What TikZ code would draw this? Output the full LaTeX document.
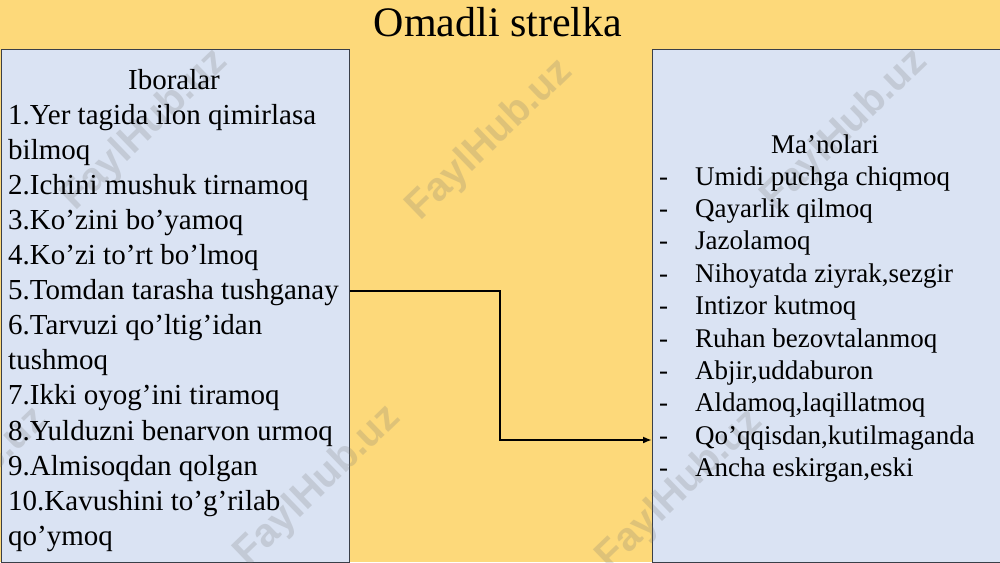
\documentclass[tikz,border=0pt]{standalone}
\usepackage{fontspec}
\setmainfont{Liberation Serif}
\newfontfamily\wmfont{Liberation Sans}
\usetikzlibrary{arrows.meta}
\definecolor{slidebg}{HTML}{FDD97A}
\definecolor{boxfill}{HTML}{DAE3F3}
\definecolor{boxedge}{HTML}{3A3F48}
\tikzset{
  panel/.style={draw=boxedge, line width=1.3pt, fill=boxfill},
  lefttext/.style={anchor=base west, inner sep=0pt, font=\fontsize{29}{35}\selectfont},
  righttext/.style={anchor=base west, inner sep=0pt, font=\fontsize{27}{32}\selectfont},
  headtext/.style={anchor=base, inner sep=0pt},
  watermark/.style={rotate=44, inner sep=0pt, text=black!55, opacity=0.22, font=\wmfont\bfseries\fontsize{40}{40}\selectfont},
  connector/.style={line width=2pt, -{Latex[length=9pt,width=7pt]}}
}
\begin{document}
\begin{tikzpicture}[x=1pt,y=-1pt]
\useasboundingbox (0,0) rectangle (1000,562);
\fill[slidebg] (0,0) rectangle (1000,562);
% title
\node[headtext, font=\fontsize{42}{42}\selectfont] (title) at (498,36) {Omadli strelka};
% panels
\node[panel, minimum width=348pt, minimum height=513pt, anchor=north west, inner sep=0pt] (L) at (0.7,48.5) {};
\node[panel, minimum width=347.5pt, minimum height=513pt, anchor=north west, inner sep=0pt] (R) at (652,48.5) {};
% watermarks
\node[watermark] (w1) at (145,130) {FaylHub.uz};
\node[watermark] (w2) at (490,140) {FaylHub.uz};
\node[watermark] (w3) at (845,130) {FaylHub.uz};
\node[watermark] (w4) at (-35,488) {FaylHub.uz};
\node[watermark] (w5) at (318,486) {FaylHub.uz};
\node[watermark] (w6) at (680,490) {FaylHub.uz};
% left panel text
\node[headtext, font=\fontsize{29}{35}\selectfont] (lh) at (174,89) {Iboralar};
\foreach \txt [count=\i] in {
  {1.Yer tagida ilon qimirlasa},
  {bilmoq},
  {2.Ichini mushuk tirnamoq},
  {3.Ko’zini bo’yamoq},
  {4.Ko’zi to’rt bo’lmoq},
  {5.Tomdan tarasha tushganay},
  {6.Tarvuzi qo’ltig’idan},
  {tushmoq},
  {7.Ikki oyog’ini tiramoq},
  {8.Yulduzni benarvon urmoq},
  {9.Almisoqdan qolgan},
  {10.Kavushini to’g’rilab},
  {qo’ymoq}}
  \node[lefttext] (l\i) at (8,89+35.1*\i) {\txt};
% right panel text
\node[headtext, font=\fontsize{27}{32}\selectfont] (rh) at (825,153) {Ma’nolari};
\foreach \txt [count=\i] in {
  {Umidi puchga chiqmoq},
  {Qayarlik qilmoq},
  {Jazolamoq},
  {Nihoyatda ziyrak,sezgir},
  {Intizor kutmoq},
  {Ruhan bezovtalanmoq},
  {Abjir,uddaburon},
  {Aldamoq,laqillatmoq},
  {Qo’qqisdan,kutilmaganda},
  {Ancha eskirgan,eski}}
{
  \node[righttext] (rd\i) at (659,152.6+32.4*\i) {-};
  \node[righttext] (r\i) at (695,152.6+32.4*\i) {\txt};
}
% connector
\coordinate (cstart) at (L.east |- 0,291);
\coordinate (cend) at (R.west |- 0,440);
\coordinate (cbend) at (500,0);
\draw[connector] (cstart) -- (cstart -| cbend) |- (cend);
\end{tikzpicture}
\end{document}
